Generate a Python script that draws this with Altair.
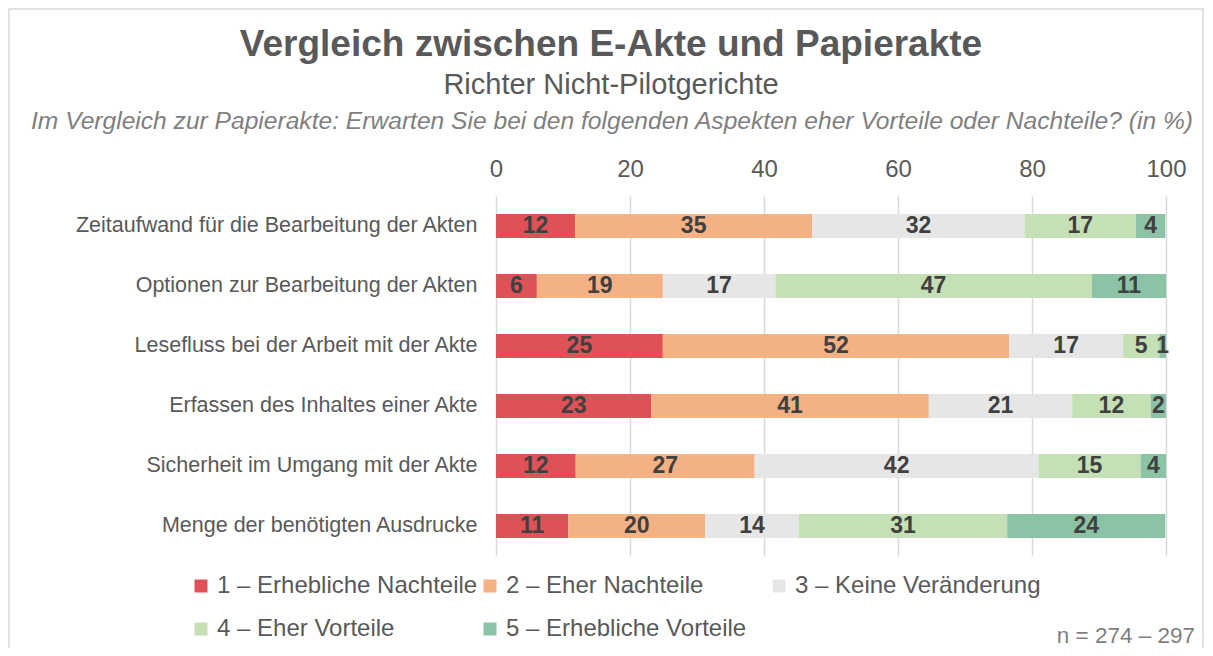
import altair as alt
import pandas as pd

aspects = [
    "Zeitaufwand für die Bearbeitung der Akten",
    "Optionen zur Bearbeitung der Akten",
    "Lesefluss bei der Arbeit mit der Akte",
    "Erfassen des Inhaltes einer Akte",
    "Sicherheit im Umgang mit der Akte",
    "Menge der benötigten Ausdrucke",
]
categories = [
    "1 – Erhebliche Nachteile",
    "2 – Eher Nachteile",
    "3 – Keine Veränderung",
    "4 – Eher Vorteile",
    "5 – Erhebliche Vorteile",
]
colors = ["#DF5157", "#F4B183", "#E6E6E6", "#C5E0B4", "#8CC3A6"]

erhebliche_nachteile = [11.8, 6.1, 24.9, 23.2, 11.9, 10.8]
eher_nachteile = [35.4, 18.8, 51.7, 41.4, 26.7, 20.4]
keine_veraenderung = [31.7, 16.8, 17.0, 21.4, 42.4, 14.0]
eher_vorteile = [16.6, 47.2, 5.4, 11.7, 15.2, 31.1]
erhebliche_vorteile = [4.4, 11.1, 1.0, 2.3, 3.8, 23.6]

x_ticks = [0, 20, 40, 60, 80, 100]

title_text = "Vergleich zwischen E-Akte und Papierakte"
subtitle_text = "Richter Nicht-Pilotgerichte"
question_text = "Im Vergleich zur Papierakte: Erwarten Sie bei den folgenden Aspekten eher Vorteile oder Nachteile? (in %)"
n_text = "n = 274 – 297"

series = [erhebliche_nachteile, eher_nachteile, keine_veraenderung, eher_vorteile, erhebliche_vorteile]
rows = []
for i, a in enumerate(aspects):
    for k, cat in enumerate(categories):
        rows.append({"aspect": a, "cat": cat, "order": k, "value": series[k][i]})
df = pd.DataFrame(rows)

FONT = "Liberation Sans"
W, H = 670, 360

base = alt.Chart(df).transform_stack(
    stack="value", groupby=["aspect"], sort=[alt.SortField("order")], as_=["x0", "x1"]
).transform_calculate(mid="(datum.x0 + datum.x1) / 2")

xscale = alt.Scale(domain=[0, 100], nice=False)
yenc = alt.Y(
    "aspect:N",
    sort=aspects,
    scale=alt.Scale(paddingInner=0.6, paddingOuter=0.3),
    axis=alt.Axis(
        title=None, domain=False, ticks=False, labelFontSize=21.5, labelColor="#595959",
        labelFont=FONT, labelPadding=19, labelLimit=480,
    ),
)

bars = base.mark_bar().encode(
    x=alt.X(
        "x0:Q", scale=xscale,
        axis=alt.Axis(
            orient="top", title=None, values=x_ticks, domain=False, ticks=False,
            gridColor="#D9D9D9", gridWidth=1.5, labelFontSize=24, labelColor="#595959",
            labelFont=FONT, labelPadding=15, labelFlush=False,
        ),
    ),
    x2="x1:Q",
    y=yenc,
    color=alt.Color(
        "cat:N",
        scale=alt.Scale(domain=categories, range=colors),
        legend=alt.Legend(
            title=None, orient="none", legendX=-307, legendY=378, columns=3,
            direction="horizontal",
            symbolType="square", symbolSize=169, symbolStrokeWidth=0,
            labelFontSize=24, labelFont=FONT, labelColor="#595959", labelOffset=4,
            rowPadding=19, columnPadding=-7, gridAlign="all", labelLimit=400,
        ),
    ),
)

labels = base.mark_text(font=FONT, fontWeight="bold", fontSize=23, color="#404040").encode(
    x=alt.X("mid:Q", scale=xscale),
    y=alt.Y("aspect:N", sort=aspects),
    text=alt.Text("value:Q", format=".0f"),
)

def note(text, size, color, x, y, align="center", weight="normal", style="normal"):
    return alt.Chart(pd.DataFrame({"t": [text]})).mark_text(
        font=FONT, fontSize=size, color=color, align=align, baseline="middle",
        fontWeight=weight, fontStyle=style,
    ).encode(text="t:N", x=alt.value(x), y=alt.value(y))

title = note(title_text, 37, "#595959", 115, -151, weight="bold")
subtitle = note(subtitle_text, 29, "#595959", 115, -111)
question = note(question_text, 24.6, "#7F7F7F", 116, -74, style="italic")
nlabel = note(n_text, 22.5, "#7F7F7F", 699, 440, align="right")

border = alt.Chart(pd.DataFrame({"t": [0]})).mark_rect(
    filled=False, stroke="#D9D9D9", strokeWidth=1.5
).encode(x=alt.value(-487), x2=alt.value(707), y=alt.value(-187), y2=alt.value(480))

chart = alt.layer(border, bars, labels, title, subtitle, question, nlabel).properties(
    width=W, height=H,
    autosize=alt.AutoSizeParams(type="none"),
    padding={"left": 488, "top": 188, "right": 39, "bottom": 92},
).configure_view(stroke=None)

chart.save("out.html", embed_options={"renderer": "svg", "actions": False})
